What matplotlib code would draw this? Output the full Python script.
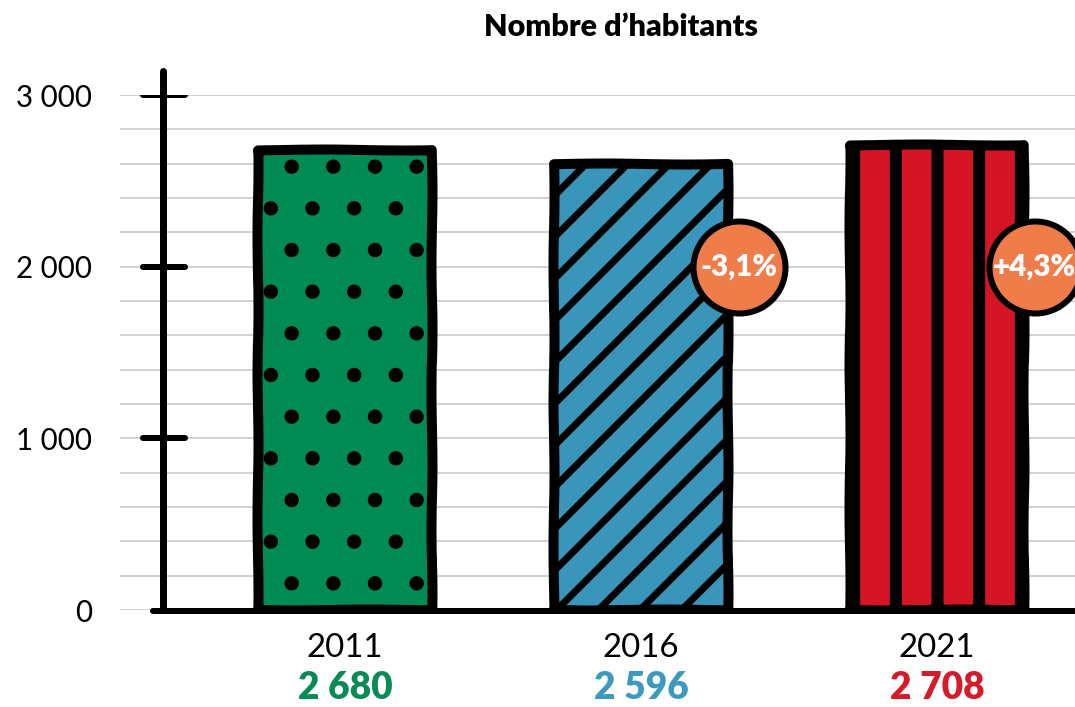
import numpy as np
import matplotlib
matplotlib.use('Agg')
import matplotlib.pyplot as plt

# data
years = ['2011', '2016', '2021']
habitants = [2680, 2596, 2708]
value_labels = ['2 680', '2 596', '2 708']
evolution = ['', '-3,1%', '+4,3%']
yticks = [0, 1000, 2000, 3000]
ytick_labels = ['0', '1 000', '2 000', '3 000']

bar_colors = ['#008a54', '#3a95bb', '#d51426']
text_colors = ['#0a8a55', '#3d9abf', '#d51a2a']
hatches = ['.', '//', '|']
hatch_lw = [6, 7, 12]  # pixels

DPI = 250
PX = 72.0 / DPI  # one pixel in points

plt.rcParams['hatch.linewidth'] = 9 * PX
plt.rcParams['font.family'] = ['Lato', 'DejaVu Sans']

fig = plt.figure(figsize=(1075 / DPI, 707 / DPI), dpi=DPI)
ax = fig.add_axes([120 / 1075, 97 / 707, 955 / 1075, 515 / 707])
ax.set_xlim(-0.76, 2.466)
ax.set_ylim(0, 3000)

x = np.arange(len(years))

# grid
ax.set_yticks(np.arange(0, 3001, 200), minor=True)
ax.set_yticks(yticks, ytick_labels)
ax.grid(which='both', axis='y', color='#d2d2d2', lw=2 * PX, zorder=0)
ax.set_axisbelow(True)
ax.set_xticks([])
ax.tick_params(axis='y', which='both', length=0, pad=8,
               labelsize=8.5)
for s in ax.spines.values():
    s.set_visible(False)

# bars
bars = ax.bar(x, habitants, width=0.59, color=bar_colors, edgecolor='k',
              linewidth=10 * PX, zorder=3)
for b, h, hl in zip(bars, hatches, hatch_lw):
    b.set_hatch(h)
    if hasattr(b, 'set_hatch_linewidth'):
        b.set_hatch_linewidth(hl * PX)
    b.set_joinstyle('round')
    b.set_sketch_params(scale=0.5, length=200, randomness=4)

# hand drawn axes
axis_x = -0.615
ax.plot([axis_x, axis_x], [0, 3140], color='k', lw=7 * PX,
        solid_capstyle='round', clip_on=False, zorder=4)
ax.plot([-0.649, 2.6], [-8, -8], color='k', lw=6 * PX,
        solid_capstyle='round', clip_on=False, zorder=4)
for t in yticks[1:]:
    ax.plot([-0.682, -0.54], [t, t], color='k', lw=6 * PX,
            solid_capstyle='round', zorder=4)

# evolution badges
for xi, ev in zip(x, evolution):
    if not ev:
        continue
    ax.scatter([xi + 0.33], [2000], s=702, color='#ef7d4a', edgecolors='k',
               linewidths=6 * PX, zorder=6, clip_on=False)
    ax.text(xi + 0.33, 2000, ev, color='white', fontsize=8.5,
            fontweight='heavy', ha='center', va='center', zorder=7)

# x labels
tr = ax.get_xaxis_transform()
for xi, yr, val, col in zip(x, years, value_labels, text_colors):
    ax.text(xi, -0.074, yr, transform=tr, ha='center', va='center',
            fontsize=9.5)
    ax.text(xi, -0.152, val, transform=tr, ha='center', va='center',
            fontsize=10.7, fontweight='heavy', color=col)

fig.text(0.578, 0.962, 'Nombre d\u2019habitants', ha='center', va='center',
         fontsize=8.8, fontweight='heavy')

fig.savefig('out.png', dpi=DPI)
